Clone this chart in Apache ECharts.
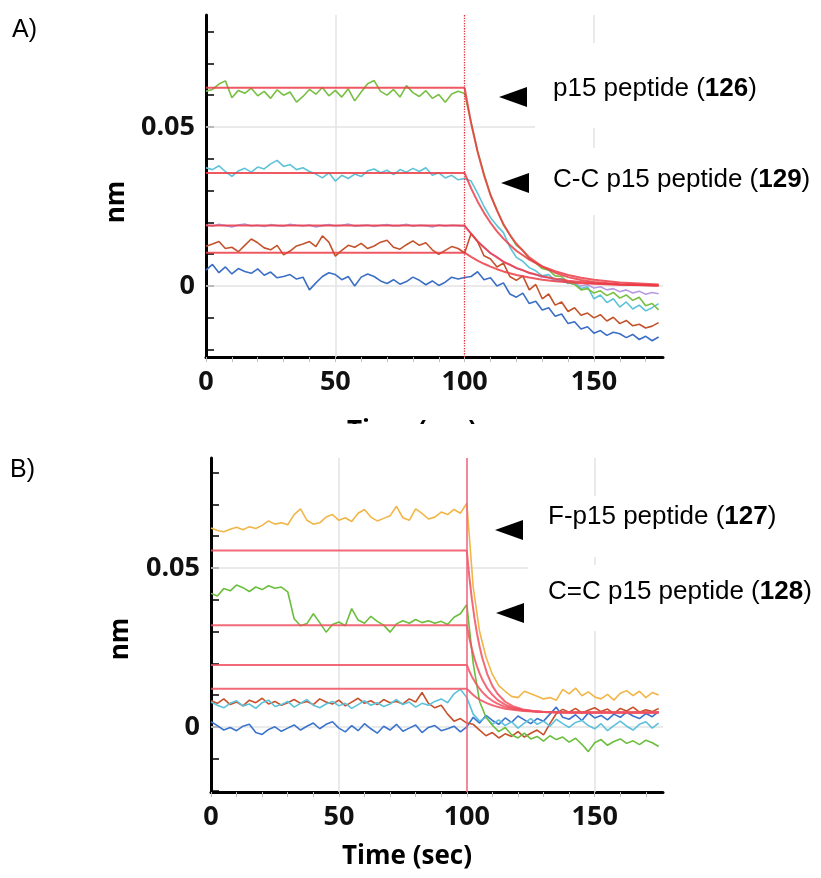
<!DOCTYPE html>
<html><head><meta charset="utf-8">
<script src="https://cdn.jsdelivr.net/npm/echarts@6/dist/echarts.min.js"></script>
<style>html,body{margin:0;padding:0;background:#fff}#c{width:821px;height:878px}</style>
</head><body><div id="c"></div>
<script>
// ---- shared sampling times (sec) ----
const time = [0,2.5,5,7.5,10,12.5,15,17.5,20,22.5,25,27.5,30,32.5,35,37.5,40,42.5,45,47.5,50,52.5,55,57.5,60,62.5,65,67.5,70,72.5,75,77.5,80,82.5,85,87.5,90,92.5,95,97.5,100,102.5,105,107.5,110,112.5,115,117.5,120,122.5,125,127.5,130,132.5,135,137.5,140,142.5,145,147.5,150,152.5,155,157.5,160,162.5,165,167.5,170,172.5,175];

// ---- Panel A raw traces (nm) ----
const greenA = [0.0612,0.0618,0.0635,0.0645,0.0592,0.0615,0.0606,0.0622,0.0598,0.0612,0.0590,0.0617,0.0600,0.0610,0.0578,0.0596,0.0618,0.0603,0.0624,0.0598,0.0615,0.0594,0.0620,0.0582,0.0610,0.0636,0.0646,0.0612,0.0600,0.0618,0.0594,0.0630,0.0608,0.0596,0.0614,0.0590,0.0602,0.0578,0.0604,0.0612,0.0605,
 0.0515,0.0425,0.0352,0.0285,0.0240,0.0192,0.0160,0.0128,0.0112,0.0085,0.0072,0.0055,0.0050,0.0032,0.0030,0.0012,0.0005,-0.0012,-0.0008,-0.0022,-0.0015,-0.0030,-0.0020,-0.0038,-0.0028,-0.0045,-0.0035,-0.0062,-0.0055,-0.0075];
const cyanA = [0.0372,0.0366,0.0378,0.0360,0.0345,0.0362,0.0370,0.0358,0.0374,0.0368,0.0384,0.0395,0.0376,0.0382,0.0366,0.0372,0.0360,0.0352,0.0340,0.0356,0.0330,0.0348,0.0338,0.0352,0.0344,0.0362,0.0368,0.0356,0.0364,0.0350,0.0366,0.0358,0.0370,0.0360,0.0372,0.0348,0.0356,0.0340,0.0348,0.0334,0.0338,
 0.0330,0.0292,0.0250,0.0215,0.0190,0.0168,0.0122,0.0090,0.0078,0.0058,0.0048,0.0032,0.0036,0.0018,0.0024,0.0008,0.0012,-0.0008,-0.0002,-0.0040,-0.0028,-0.0052,-0.0040,-0.0066,-0.0050,-0.0072,-0.0060,-0.0078,-0.0068,-0.0055];
const brownA = [0.0125,0.0132,0.0140,0.0118,0.0122,0.0108,0.0128,0.0148,0.0136,0.0120,0.0114,0.0128,0.0098,0.0110,0.0126,0.0132,0.0140,0.0124,0.0158,0.0138,0.0094,0.0112,0.0128,0.0122,0.0134,0.0118,0.0126,0.0138,0.0144,0.0122,0.0116,0.0130,0.0142,0.0128,0.0136,0.0114,0.0100,0.0112,0.0124,0.0118,0.0104,
 0.0165,0.0140,0.0095,0.0085,0.0060,0.0072,0.0030,0.0018,0.0032,-0.0012,0.0005,-0.0040,-0.0025,-0.0060,-0.0050,-0.0080,-0.0068,-0.0092,-0.0085,-0.0100,-0.0090,-0.0110,-0.0098,-0.0118,-0.0108,-0.0125,-0.0120,-0.0132,-0.0126,-0.0115];
const blueA = [0.0050,0.0068,0.0042,0.0060,0.0038,0.0055,0.0046,0.0040,0.0054,0.0034,0.0044,0.0026,0.0030,0.0036,0.0022,0.0028,-0.0012,0.0010,0.0030,0.0042,0.0036,0.0020,0.0030,0.0000,0.0028,0.0038,0.0030,0.0016,0.0008,0.0020,0.0006,0.0014,0.0028,0.0018,0.0004,0.0016,0.0002,0.0012,0.0028,0.0022,0.0027,
 0.0030,0.0045,0.0020,0.0026,0.0000,0.0010,-0.0025,-0.0035,-0.0022,-0.0055,-0.0048,-0.0075,-0.0068,-0.0095,-0.0088,-0.0118,-0.0112,-0.0135,-0.0128,-0.0148,-0.0140,-0.0155,-0.0145,-0.0150,-0.0162,-0.0152,-0.0168,-0.0158,-0.0172,-0.0160];
const purpleA = [0.0192,0.0188,0.0194,0.0190,0.0186,0.0192,0.0195,0.0189,0.0191,0.0187,0.0193,0.0190,0.0188,0.0194,0.0191,0.0189,0.0192,0.0186,0.0190,0.0193,0.0189,0.0191,0.0195,0.0188,0.0190,0.0192,0.0187,0.0191,0.0193,0.0189,0.0190,0.0194,0.0188,0.0191,0.0190,0.0186,0.0192,0.0189,0.0191,0.0190,0.0188,
 0.0166,0.0140,0.0123,0.0102,0.0092,0.0075,0.0068,0.0055,0.0050,0.0040,0.0036,0.0028,0.0026,0.0018,0.0016,0.0010,0.0006,0.0000,0.0004,-0.0006,-0.0002,-0.0012,-0.0008,-0.0018,-0.0012,-0.0022,-0.0016,-0.0026,-0.0020,-0.0024];

// ---- Panel A fitted curves ----
const fitTimeA = [0,100,102.5,105,107.5,110,112.5,115,117.5,120,125,130,135,140,145,150,160,175];
const fitA1 = [0.0623,0.0623,0.0512,0.0422,0.0348,0.0287,0.0237,0.0195,0.0161,0.0133,0.0090,0.0061,0.0042,0.0028,0.0019,0.0013,0.0006,0.0002];
const fitA2 = [0.0355,0.0355,0.0307,0.0266,0.0230,0.0199,0.0172,0.0149,0.0129,0.0111,0.0083,0.0062,0.0047,0.0035,0.0026,0.0020,0.0011,0.0005];
const fitA3 = [0.0190,0.0190,0.0164,0.0141,0.0121,0.0104,0.0090,0.0077,0.0067,0.0057,0.0042,0.0031,0.0023,0.0017,0.0013,0.0009,0.0005,0.0002];
const fitA4 = [0.0105,0.0105,0.0092,0.0080,0.0070,0.0061,0.0053,0.0046,0.0040,0.0035,0.0027,0.0020,0.0015,0.0012,0.0009,0.0007,0.0004,0.0002];

// ---- Panel B raw traces (nm) ----
const yellowB = [0.0626,0.0618,0.0614,0.0622,0.0628,0.0620,0.0630,0.0624,0.0634,0.0648,0.0638,0.0642,0.0636,0.0668,0.0686,0.0650,0.0638,0.0642,0.0660,0.0668,0.0650,0.0658,0.0646,0.0672,0.0684,0.0660,0.0648,0.0656,0.0664,0.0694,0.0658,0.0650,0.0686,0.0672,0.0654,0.0660,0.0676,0.0668,0.0684,0.0672,0.0704,
 0.0440,0.0300,0.0220,0.0165,0.0130,0.0112,0.0096,0.0092,0.0112,0.0104,0.0096,0.0088,0.0092,0.0084,0.0118,0.0104,0.0122,0.0098,0.0110,0.0094,0.0088,0.0102,0.0084,0.0106,0.0114,0.0098,0.0112,0.0092,0.0108,0.0100];
const greenB = [0.0420,0.0412,0.0435,0.0428,0.0446,0.0438,0.0426,0.0440,0.0432,0.0444,0.0436,0.0440,0.0425,0.0340,0.0318,0.0325,0.0356,0.0328,0.0298,0.0322,0.0330,0.0318,0.0372,0.0336,0.0326,0.0348,0.0332,0.0320,0.0298,0.0324,0.0334,0.0326,0.0338,0.0328,0.0334,0.0326,0.0332,0.0322,0.0345,0.0356,0.0385,
 0.0200,0.0080,0.0030,0.0005,-0.0015,-0.0002,-0.0025,-0.0035,-0.0020,-0.0038,-0.0030,-0.0045,-0.0028,-0.0040,-0.0032,-0.0048,-0.0036,-0.0055,-0.0078,-0.0050,-0.0040,-0.0058,-0.0046,-0.0038,-0.0052,-0.0044,-0.0056,-0.0042,-0.0050,-0.0062];
const cyanB = [0.0078,0.0068,0.0060,0.0074,0.0082,0.0066,0.0072,0.0058,0.0076,0.0084,0.0064,0.0070,0.0080,0.0062,0.0074,0.0086,0.0068,0.0060,0.0072,0.0080,0.0066,0.0074,0.0058,0.0070,0.0082,0.0068,0.0076,0.0064,0.0072,0.0086,0.0070,0.0078,0.0062,0.0074,0.0068,0.0080,0.0088,0.0076,0.0104,0.0118,0.0092,
 0.0040,0.0018,0.0030,0.0008,0.0022,0.0004,0.0016,-0.0004,0.0012,0.0026,0.0008,0.0018,0.0002,0.0024,0.0010,-0.0002,0.0014,0.0020,0.0004,-0.0006,0.0010,-0.0012,0.0004,0.0018,0.0002,-0.0010,0.0008,0.0016,-0.0004,0.0012];
const brownB = [0.0082,0.0074,0.0088,0.0070,0.0078,0.0066,0.0084,0.0076,0.0090,0.0072,0.0080,0.0068,0.0076,0.0086,0.0074,0.0080,0.0070,0.0088,0.0078,0.0072,0.0084,0.0066,0.0078,0.0090,0.0074,0.0082,0.0070,0.0086,0.0076,0.0080,0.0072,0.0088,0.0078,0.0108,0.0074,0.0060,0.0068,0.0040,0.0018,0.0026,0.0012,
 0.0008,-0.0010,-0.0028,-0.0018,-0.0035,-0.0022,-0.0030,-0.0015,-0.0032,-0.0020,-0.0010,-0.0025,0.0010,0.0042,0.0055,0.0046,0.0058,0.0044,0.0052,0.0060,0.0048,0.0056,0.0042,0.0058,0.0050,0.0062,0.0046,0.0054,0.0048,0.0058];
const blueB = [0.0016,0.0004,-0.0010,-0.0002,-0.0012,0.0002,0.0008,-0.0018,-0.0024,-0.0008,0.0000,-0.0014,-0.0004,0.0006,-0.0010,0.0002,0.0012,-0.0006,0.0008,0.0016,-0.0004,-0.0016,0.0004,-0.0012,0.0010,-0.0006,-0.0020,0.0002,-0.0010,0.0008,-0.0014,-0.0004,0.0006,-0.0018,-0.0002,0.0004,-0.0012,-0.0006,0.0002,-0.0016,0.0000,
 0.0030,0.0012,0.0036,0.0020,0.0008,0.0028,0.0014,0.0034,0.0022,0.0010,0.0026,0.0018,0.0040,0.0062,0.0030,0.0024,0.0038,0.0020,0.0044,0.0028,0.0036,0.0022,0.0040,0.0030,0.0046,0.0034,0.0026,0.0042,0.0032,0.0048];

// ---- Panel B fitted curves ----
const fitTimeB = [0,100,101,102,103,104,105,106,108,110,112,115,118,122,126,130,140,150,175];
const fitB1 = [0.0555,0.0555,0.0471,0.0401,0.0342,0.0293,0.0253,0.0218,0.0166,0.0129,0.0104,0.0079,0.0065,0.0055,0.0050,0.0047,0.0045,0.0045,0.0045];
const fitB2 = [0.0320,0.0320,0.0279,0.0245,0.0215,0.0190,0.0168,0.0150,0.0121,0.0101,0.0085,0.0070,0.0060,0.0053,0.0049,0.0047,0.0045,0.0045,0.0045];
const fitB3 = [0.0195,0.0195,0.0175,0.0158,0.0144,0.0131,0.0120,0.0110,0.0094,0.0082,0.0073,0.0063,0.0057,0.0052,0.0049,0.0047,0.0045,0.0045,0.0045];
const fitB4 = [0.0120,0.0120,0.0112,0.0104,0.0097,0.0091,0.0086,0.0082,0.0074,0.0068,0.0063,0.0057,0.0054,0.0050,0.0048,0.0047,0.0045,0.0045,0.0045];

// ---- axes / ticks ----
const xTicks = [0,10,20,30,40,50,60,70,80,90,100,110,120,130,140,150,160,170];
const xLabels = [0,50,100,150];
const yTicks = [-0.02,-0.01,0,0.01,0.02,0.03,0.04,0.05,0.06,0.07,0.08];
const yLabels = [0,0.05];
const gridX = [50,150];
const gridY = [0,0.05];
const stepX = 100;
const labels = {
  A: ['p15 peptide (', '126', ')', 'C-C p15 peptide (', '129', ')'],
  B: ['F-p15 peptide (', '127', ')', 'C=C p15 peptide (', '128', ')']
};

const chart = echarts.init(document.getElementById('c'), null, {renderer: 'canvas'});
const zip = (xs, ys) => xs.map((x, i) => [x, ys[i]]);
const BOLD = {fontFamily: 'Open Sans', fontWeight: 'bold', fontSize: 27, color: '#111'};

function trace(g, vals, color, z) {
  return {type: 'line', xAxisIndex: g, yAxisIndex: g, data: zip(time, vals), showSymbol: false, symbol: 'none',
    lineStyle: {color: color, width: 1.6}, itemStyle: {color: color}, z: z || 2, silent: true};
}
function fit(g, ft, vals, color) {
  return {type: 'line', xAxisIndex: g, yAxisIndex: g, data: zip(ft, vals), showSymbol: false, symbol: 'none',
    lineStyle: {color: color, width: 2}, z: 4, silent: true};
}
function helper(g) {
  return {type: 'line', xAxisIndex: g, yAxisIndex: g, data: [], silent: true, z: 1,
    markLine: {silent: true, symbol: 'none', z: 1, label: {show: false}, animation: false,
      lineStyle: {color: '#e3e3e3', width: 1.5, type: 'solid'},
      data: gridX.map(v => ({xAxis: v})).concat(gridY.map(v => ({yAxis: v})))}};
}
function stepLine(g, color, type, width) {
  return {type: 'line', xAxisIndex: g, yAxisIndex: g, data: [], silent: true, z: 5,
    markLine: {silent: true, symbol: 'none', z: 6, label: {show: false}, animation: false,
      lineStyle: {color: color, width: width, type: type}, data: [{xAxis: stepX}]}};
}
function xAx(g) {
  return {type: 'value', gridIndex: g, min: 0, max: 176.7,
    axisLine: {onZero: false, lineStyle: {color: '#000', width: 3}},
    axisTick: {show: true, customValues: xTicks, length: 5, lineStyle: {color: '#bbb', width: 1}},
    axisLabel: Object.assign({customValues: xLabels, margin: 12}, BOLD),
    splitLine: {show: false}};
}
function yAx(g, mn, mx) {
  return {type: 'value', gridIndex: g, min: mn, max: mx,
    axisLine: {show: true, onZero: false, lineStyle: {color: '#000', width: 3}},
    axisTick: {show: true, inside: true, customValues: yTicks, length: 8, lineStyle: {color: '#000', width: 1.5}},
    axisLabel: Object.assign({customValues: yLabels, margin: 11}, BOLD),
    splitLine: {show: false}};
}

function rich(parts, x, y) {
  const t = parts[0] + '{b|' + parts[1] + '}' + parts[2];
  return {type: 'text', x: x, y: y, z: 102,
    style: {text: t, fill: '#000', fontFamily: 'Liberation Sans', fontSize: 26, align: 'left', verticalAlign: 'middle',
      rich: {b: {fontWeight: 'bold', fontFamily: 'Liberation Sans', fontSize: 26, fill: '#000'}}}};
}
const white = (x, y, w, h, z) => ({type: 'rect', z: z || 100, shape: {x: x, y: y, width: w, height: h}, style: {fill: '#fff'}});
const arrow = (x, y) => ({type: 'polygon', z: 101, shape: {points: [[x, y], [x + 28, y - 10], [x + 28, y + 10]]}, style: {fill: '#000'}});
const plain = (text, x, y, opts) => ({type: 'text', x: x, y: y, z: 103, rotation: opts.rot || 0,
  style: {text: text, fill: '#000', fontFamily: opts.family, fontWeight: opts.weight || 'normal', fontSize: opts.size, align: opts.align || 'left', verticalAlign: 'middle'}});

chart.setOption({
  animation: false,
  backgroundColor: '#fff',
  grid: [
    {left: 206, top: 15, width: 457, height: 342},
    {left: 211, top: 458, width: 452, height: 334}
  ],
  xAxis: [xAx(0), xAx(1)],
  yAxis: [yAx(0, -0.0223, 0.0852), yAx(1, -0.0205, 0.0846)],
  series: [
    helper(0), helper(1),
    trace(0, purpleA, '#b79be3'),
    trace(0, blueA, '#3b6fc6'),
    trace(0, brownA, '#c4522b'),
    trace(0, cyanA, '#5ec2d8'),
    trace(0, greenA, '#78bf42', 3),
    fit(0, fitTimeA, fitA4, 'rgba(236,60,70,0.85)'),
    fit(0, fitTimeA, fitA3, 'rgba(236,60,70,0.85)'),
    fit(0, fitTimeA, fitA2, 'rgba(236,60,70,0.85)'),
    fit(0, fitTimeA, fitA1, 'rgba(236,60,70,0.85)'),
    stepLine(0, '#e0303e', 'dotted', 1.3),
    trace(1, blueB, '#3b74cc'),
    trace(1, brownB, '#c6512b'),
    trace(1, cyanB, '#5dc1db'),
    trace(1, greenB, '#6bbe3e'),
    trace(1, yellowB, '#f1b647'),
    fit(1, fitTimeB, fitB4, 'rgba(240,80,95,0.85)'),
    fit(1, fitTimeB, fitB3, 'rgba(240,80,95,0.85)'),
    fit(1, fitTimeB, fitB2, 'rgba(240,80,95,0.85)'),
    fit(1, fitTimeB, fitB1, 'rgba(240,80,95,0.85)'),
    stepLine(1, '#f0607a', 'solid', 1.5)
  ],
  graphic: [
    white(535, 43, 286, 85), white(535, 148, 286, 67),
    white(528, 496, 293, 61), white(528, 565, 293, 66),
    arrow(499, 97), arrow(501, 183), arrow(495, 530), arrow(496, 613),
    rich(labels.A.slice(0, 3), 553, 89), rich(labels.A.slice(3), 553, 180),
    rich(labels.B.slice(0, 3), 548, 517), rich(labels.B.slice(3), 548, 592),
    plain('A)', 12, 30, {family: 'Liberation Sans', size: 25}),
    plain('B)', 10, 470, {family: 'Liberation Sans', size: 25}),
    plain('nm', 117, 202, {family: 'Open Sans', weight: 'bold', size: 26, align: 'center', rot: Math.PI / 2}),
    plain('nm', 121, 639, {family: 'Open Sans', weight: 'bold', size: 26, align: 'center', rot: Math.PI / 2}),
    plain('Time (sec)', 412, 432, {family: 'Open Sans', weight: 'bold', size: 26, align: 'center'}),
    white(300, 424, 260, 24, 110),
    plain('Time (sec)', 407, 857, {family: 'Open Sans', weight: 'bold', size: 26, align: 'center'})
  ]
});
</script>
</body></html>
